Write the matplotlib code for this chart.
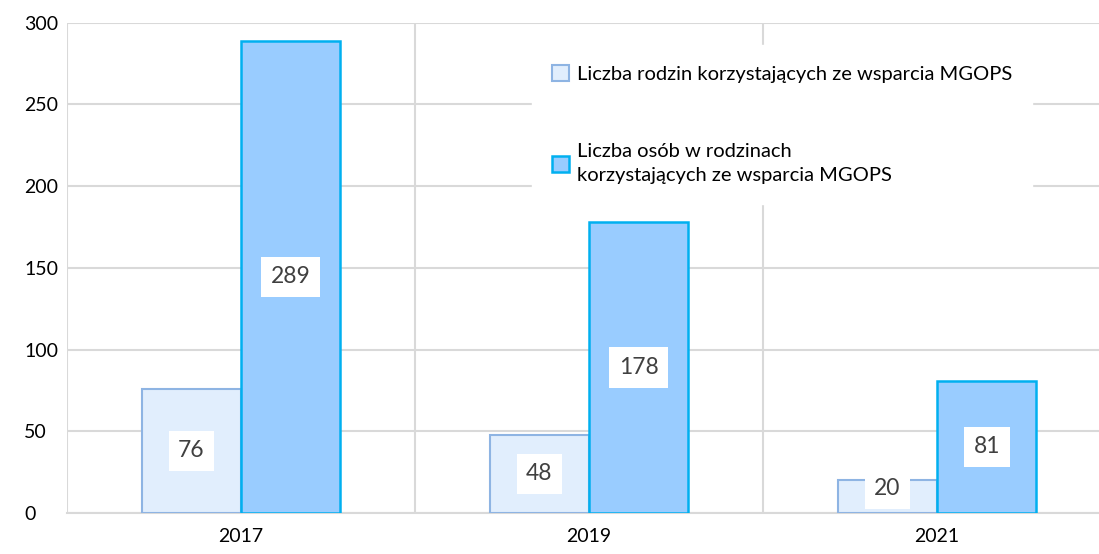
import matplotlib.pyplot as plt
import numpy as np

# dane z wykresu
lata = ['2017', '2019', '2021']
rodziny = [76, 48, 20]
osoby = [289, 178, 81]
etykiety = ['Liczba rodzin korzystających ze wsparcia MGOPS',
            'Liczba osób w rodzinach\nkorzystających ze wsparcia MGOPS']

plt.rcParams['font.family'] = ['Lato', 'DejaVu Sans']

fig = plt.figure(figsize=(10.99, 5.54), dpi=100, facecolor='white')
ax = fig.add_axes([0.061, 0.074, 0.95, 0.885])

x = np.arange(len(lata))
w = 0.285
b1 = ax.bar(x - w / 2, rodziny, w, color='#E1EEFD', edgecolor='#8EB4E3', linewidth=1.5,
            label=etykiety[0], zorder=3)
b2 = ax.bar(x + w / 2, osoby, w, color='#99CCFF', edgecolor='#00B0F0', linewidth=1.8,
            label=etykiety[1], zorder=3)

for bars, vals in [(b1, rodziny), (b2, osoby)]:
    for r, v in zip(bars, vals):
        ax.text(r.get_x() + r.get_width() / 2, max(v / 2, 15), str(v), ha='center', va='center',
                fontsize=16.5, color='#404040', zorder=5,
                bbox=dict(boxstyle='square,pad=0.42', fc='white', ec='none'))

ax.set_xlim(-0.5, 2.5)
ax.set_ylim(0, 300)
ax.set_yticks(range(0, 301, 50))
ax.set_xticks(x)
ax.set_xticklabels(lata)
ax.set_xticks([-0.5, 0.5, 1.5, 2.5], minor=True)
ax.grid(axis='y', color='#D9D9D9', linewidth=1.5, zorder=0)
ax.grid(axis='x', which='minor', color='#D9D9D9', linewidth=1.5, zorder=0)
ax.tick_params(axis='both', which='both', length=0, labelsize=14, colors='#000000')
ax.tick_params(axis='x', pad=11)
ax.tick_params(axis='y', pad=31)
for lab in ax.get_yticklabels():
    lab.set_horizontalalignment('left')
for s in ['top', 'right', 'left']:
    ax.spines[s].set_visible(False)
ax.spines['bottom'].set_color('#D9D9D9')
ax.spines['bottom'].set_linewidth(1.5)

leg = ax.legend(loc='upper left', bbox_to_anchor=(0.436, 0.975), frameon=True, fancybox=False,
                edgecolor='white', framealpha=1, fontsize=14.5, handlelength=0.8, handleheight=0.8,
                handletextpad=0.4, labelspacing=3.0, borderpad=1.0)
leg.get_texts()[1].set_linespacing(1.5)
leg.set_zorder(4)

fig.savefig('out.png', dpi=100)
